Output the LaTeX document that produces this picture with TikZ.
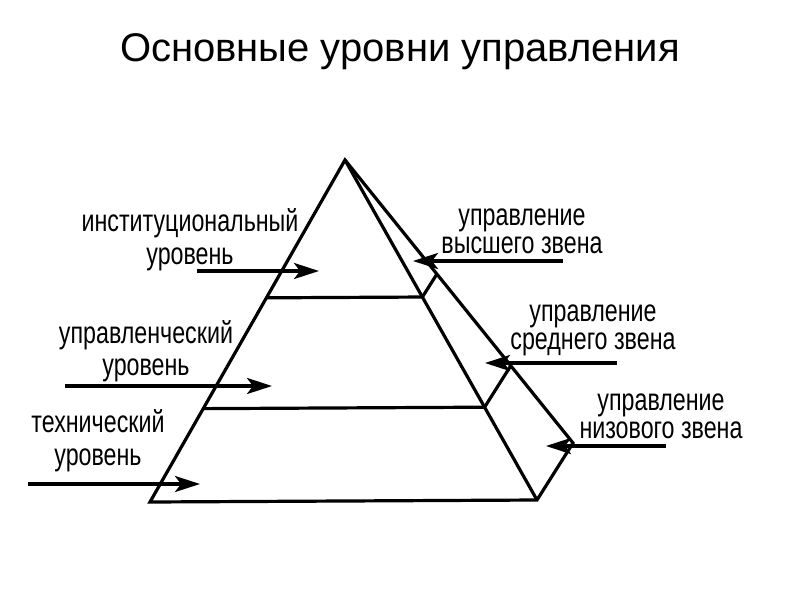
\documentclass[tikz,border=0pt]{standalone}
\usepackage{fontspec}
\setmainfont{Liberation Sans}
\newfontfamily\lblfont[FakeStretch=0.75]{Liberation Sans}
\usetikzlibrary{arrows.meta,calc}
\begin{document}
\begin{tikzpicture}[x=1pt,y=-1pt,
  edge/.style={line width=3.2pt, line join=miter},
  arr/.style={line width=3.4pt, -{Stealth[length=25pt,width=16pt,inset=6pt]}},
  lbl/.style={font=\lblfont\fontsize{31}{33}\selectfont, inner sep=0pt, anchor=base},
  ttl/.style={font=\fontsize{40}{44}\selectfont, inner sep=0pt, anchor=base}]
\useasboundingbox (0,0) rectangle (800,600);
\fill[white] (0,0) rectangle (800,600);

% title
\node[ttl] (title) at (400,61) {Основные уровни управления};

% pyramid vertices
\coordinate (A) at (345,160);
\coordinate (BL) at (150,502);
\coordinate (BR) at (537,500);
\coordinate (BV) at (573,443);
% level points
\coordinate (L1) at ($(A)!0.403!(BL)$);
\coordinate (F1) at ($(A)!0.403!(BR)$);
\coordinate (K1) at ($(A)!0.403!(BV)$);
\coordinate (L2) at ($(A)!0.727!(BL)$);
\coordinate (F2) at ($(A)!0.727!(BR)$);
\coordinate (K2) at ($(A)!0.727!(BV)$);

\draw[edge] (A) -- (BL) -- (BR) -- (BV) -- cycle;
\draw[edge] (A) -- (BR);
\draw[edge] (L1) -- (F1) -- (K1);
\draw[edge] (L2) -- (F2) -- (K2);

% left labels
\node[lbl] (inst1) at (190,231) {институциональный};
\node[lbl] (inst2) at (190,264) {уровень};
\node[lbl] (upr1) at (146,343) {управленческий};
\node[lbl] (upr2) at (146,375) {уровень};
\node[lbl] (tech1) at (98,432) {технический};
\node[lbl] (tech2) at (98,465) {уровень};

% right labels
\node[lbl] (hi1) at (522,225) {управление};
\node[lbl] (hi2) at (522,253) {высшего звена};
\node[lbl] (mid1) at (593,321) {управление};
\node[lbl] (mid2) at (593,349) {среднего звена};
\node[lbl] (low1) at (661,410) {управление};
\node[lbl] (low2) at (661,438) {низового звена};

% arrow ends
\coordinate (a1s) at (197,271);
\coordinate (a1t) at (319,271);
\coordinate (a2s) at (65,386);
\coordinate (a2t) at (272,386);
\coordinate (a3s) at (28,484);
\coordinate (a3t) at (200,484);
\coordinate (b1s) at (563,261);
\coordinate (b1t) at (413,261);
\coordinate (b2s) at (617,363);
\coordinate (b2t) at (485,363);
\coordinate (b3s) at (666,446);
\coordinate (b3t) at (546,446);

\draw[arr] (a1s) -- (a1t);
\draw[arr] (a2s) -- (a2t);
\draw[arr] (a3s) -- (a3t);
\draw[arr] (b1s) -- (b1t);
\draw[arr] (b2s) -- (b2t);
\draw[arr] (b3s) -- (b3t);
\end{tikzpicture}
\end{document}
